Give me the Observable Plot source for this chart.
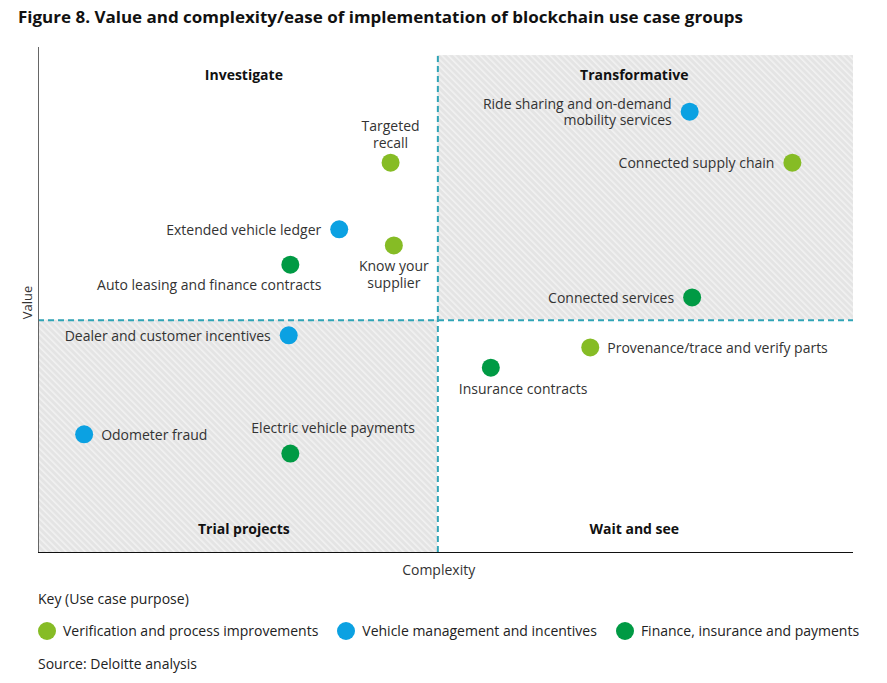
<!DOCTYPE html>
<html>
<head>
<meta charset="utf-8">
<script src="https://cdn.jsdelivr.net/npm/d3@7"></script>
<script src="https://cdn.jsdelivr.net/npm/@observablehq/plot@0.6"></script>
<style>
  body { margin: 0; background: #fff; font-family: "Open Sans", sans-serif; color: #222; }
  #wrap { position: relative; width: 887px; height: 683px; }
  #title { position: absolute; left: 18px; top: 6px; font-weight: 700; font-size: 16px; color: #111; white-space: nowrap; transform-origin: left center; }
  #chart { position: absolute; left: 0; top: 35px; }
  .note { position: absolute; left: 38px; font-size: 14px; color: #222; white-space: nowrap; }
  #legend { position: absolute; left: 38px; top: 621px; display: flex; font-size: 14px; color: #222; white-space: nowrap; }
  .item { display: flex; align-items: center; margin-right: 19px; }
  .sw { width: 18px; height: 18px; border-radius: 50%; margin-right: 7px; }
</style>
</head>
<body>
<div id="wrap">
  <div id="title">Figure 8. Value and complexity/ease of implementation of blockchain use case groups</div>
  <div id="chart"></div>
  <div class="note" style="top:589px">Key (Use case purpose)</div>
  <div id="legend"></div>
  <div class="note" style="top:654px">Source: Deloitte analysis</div>
</div>
<script>
// ---- data ----
const useCases = [
  "Targeted recall",
  "Extended vehicle ledger",
  "Know your supplier",
  "Auto leasing and finance contracts",
  "Ride sharing and on-demand mobility services",
  "Connected supply chain",
  "Connected services",
  "Dealer and customer incentives",
  "Odometer fraud",
  "Electric vehicle payments",
  "Insurance contracts",
  "Provenance/trace and verify parts"
];
const labelText = [
  "Targeted\nrecall",
  "Extended vehicle ledger",
  "Know your\nsupplier",
  "Auto leasing and finance contracts",
  "Ride sharing and on-demand\nmobility services",
  "Connected supply chain",
  "Connected services",
  "Dealer and customer incentives",
  "Odometer fraud",
  "Electric vehicle payments",
  "Insurance contracts",
  "Provenance/trace and verify parts"
];
const complexity = [43.2, 36.9, 43.6, 30.9, 79.9, 92.5, 80.2, 30.7, 5.6, 30.9, 55.5, 67.7];
const value      = [77.2, 64.0, 60.8, 57.0, 87.3, 77.2, 50.5, 43.0, 23.4, 19.6, 36.6, 40.6];
const groups = [
  "Verification and process improvements",
  "Vehicle management and incentives",
  "Verification and process improvements",
  "Finance, insurance and payments",
  "Vehicle management and incentives",
  "Verification and process improvements",
  "Finance, insurance and payments",
  "Vehicle management and incentives",
  "Vehicle management and incentives",
  "Finance, insurance and payments",
  "Finance, insurance and payments",
  "Verification and process improvements"
];
const placement = ["above", "left", "below", "belowEnd", "left", "left", "left", "left", "right", "aboveStart", "belowStart", "right"];
const groupNames = ["Verification and process improvements", "Vehicle management and incentives", "Finance, insurance and payments"];
const groupColors = ["#86BC25", "#0BA1E2", "#009A44"];
const quadrantNames = ["Investigate", "Transformative", "Trial projects", "Wait and see"];
const quadrantX = [25.2, 73.1, 25.2, 73.1];
const quadrantY = [94.5, 94.5, 4.5, 4.5];
const splitX = 49;
const splitY = 46;
const axisNames = ["Complexity", "Value"];

// ---- build ----
const rows = useCases.map((name, i) => ({
  name, label: labelText[i], x: complexity[i], y: value[i], group: groups[i], place: placement[i]
}));
const placeStyle = {
  left:       {textAnchor: "end",    dx: -18, dy: 0,   lineAnchor: "middle"},
  right:      {textAnchor: "start",  dx: 17,  dy: 0,   lineAnchor: "middle"},
  above:      {textAnchor: "middle", dx: 0,   dy: -15, lineAnchor: "bottom"},
  below:      {textAnchor: "middle", dx: 0,   dy: 14,  lineAnchor: "top"},
  belowEnd:   {textAnchor: "end",    dx: 31,  dy: 20,  lineAnchor: "middle"},
  aboveStart: {textAnchor: "start",  dx: -39, dy: -26, lineAnchor: "middle"},
  belowStart: {textAnchor: "start",  dx: -32, dy: 21,  lineAnchor: "middle"}
};
const labelMarks = Object.entries(placeStyle).map(([key, s]) =>
  Plot.text(rows.filter(d => d.place === key), {
    x: "x", y: "y", text: "label", fill: "#333", fontSize: 14, lineHeight: 1.2, ...s
  })
);

const hatchDefs = () => {
  const defs = d3.create("svg:defs");
  const p = defs.append("pattern").attr("id", "hatch").attr("patternUnits", "userSpaceOnUse")
    .attr("width", 4.5).attr("height", 4.5).attr("patternTransform", "rotate(-45)");
  p.append("rect").attr("width", 4.5).attr("height", 4.5).attr("fill", "#e4e4e4");
  p.append("rect").attr("width", 1.6).attr("height", 4.5).attr("fill", "#f1f1f1");
  return defs.node();
};

const shaded = [
  {x1: splitX, x2: 100, y1: splitY, y2: 98.4},
  {x1: 0, x2: splitX, y1: 0, y2: splitY}
];
const teal = "#2FA4B6";

const chart = Plot.plot({
  width: 887, height: 550,
  marginLeft: 38, marginRight: 34, marginTop: 12, marginBottom: 33,
  style: {fontFamily: "Open Sans", fontSize: "14px", background: "transparent"},
  x: {domain: [0, 100], axis: null},
  y: {domain: [0, 100], axis: null},
  color: {domain: groupNames, range: groupColors},
  marks: [
    hatchDefs,
    Plot.rect(shaded, {x1: "x1", x2: "x2", y1: "y1", y2: "y2", fill: "url(#hatch)"}),
    Plot.ruleX([splitX], {y1: 0, y2: 98.4, stroke: teal, strokeWidth: 2, strokeDasharray: "6,4"}),
    Plot.ruleY([splitY], {x1: 0, x2: 100, stroke: teal, strokeWidth: 2, strokeDasharray: "6,4"}),
    Plot.ruleX([0], {y1: 0, y2: 100, stroke: "#666", strokeWidth: 1}),
    Plot.ruleY([0], {x1: 0, x2: 100, stroke: "#111", strokeWidth: 1}),
    Plot.dot(rows, {x: "x", y: "y", r: 9, fill: "group", stroke: "none"}),
    ...labelMarks,
    Plot.text(quadrantNames, {x: (d, i) => quadrantX[i], y: (d, i) => quadrantY[i], text: d => d,
      fontWeight: 700, fontSize: 14, fill: "#111"}),
    Plot.text([axisNames[0]], {x: 49.1, y: -3.6, text: d => d, fontSize: 14, fill: "#333"}),
    Plot.text([axisNames[1]], {x: -1.35, y: 49.5, text: d => d, fontSize: 13, fill: "#333", rotate: -90})
  ]
});
document.getElementById("chart").appendChild(chart);

// legend
const legend = document.getElementById("legend");
groupNames.forEach((g, i) => {
  const it = document.createElement("div");
  it.className = "item";
  it.innerHTML = `<span class="sw" style="background:${groupColors[i]}"></span><span>${g}</span>`;
  legend.appendChild(it);
});

// fit title width
const t = document.getElementById("title");
const w = t.getBoundingClientRect().width;
t.style.transform = `scaleX(${725 / w})`;
</script>
</body>
</html>
